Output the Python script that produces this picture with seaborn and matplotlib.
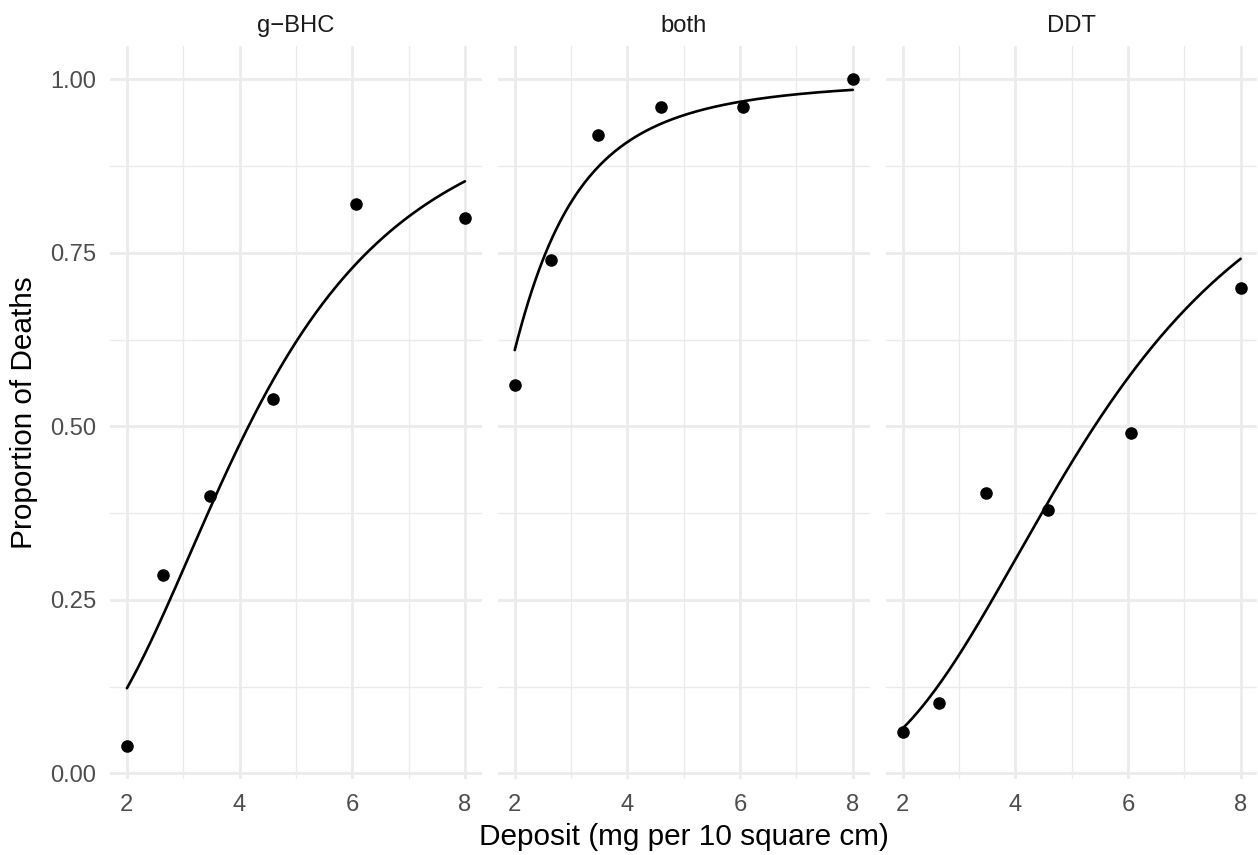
import numpy as np
import pandas as pd
import matplotlib
matplotlib.use("Agg")
import matplotlib.pyplot as plt
from matplotlib.ticker import FixedLocator, FormatStrFormatter
import seaborn as sns

# ---- data ----
panels = ["g\u2212BHC", "both", "DDT"]
deposit = [2.00, 2.64, 3.48, 4.59, 6.06, 8.00]
prop_gbhc = [0.04, 0.286, 0.40, 0.54, 0.82, 0.80]
prop_both = [0.56, 0.74, 0.92, 0.96, 0.96, 1.00]
prop_ddt = [0.06, 0.102, 0.404, 0.38, 0.49, 0.70]
n_insects = 50
x_ticks = [2, 4, 6, 8]
y_ticks = [0.00, 0.25, 0.50, 0.75, 1.00]

props = {panels[0]: prop_gbhc, panels[1]: prop_both, panels[2]: prop_ddt}
rows = []
for p in panels:
    for d, v in zip(deposit, props[p]):
        rows.append({"panel": p, "deposit": d, "prop": v})
df = pd.DataFrame(rows)

# ---- logistic fit: logit(p) = a_group + b*log(deposit) ----
X = np.column_stack([(df["panel"] == p).astype(float) for p in panels] + [np.log(df["deposit"].values)])
y = df["prop"].values
beta = np.zeros(X.shape[1])
for _ in range(60):
    eta = X @ beta
    mu = 1.0 / (1.0 + np.exp(-eta))
    mu = np.clip(mu, 1e-9, 1 - 1e-9)
    w = n_insects * mu * (1 - mu)
    z = eta + (y - mu) / (mu * (1 - mu))
    beta = np.linalg.solve(X.T @ (w[:, None] * X), X.T @ (w * z))

grid_x = np.linspace(min(deposit), max(deposit), 200)
fit_rows = []
for i, p in enumerate(panels):
    eta = beta[i] + beta[-1] * np.log(grid_x)
    for gx, e in zip(grid_x, eta):
        fit_rows.append({"panel": p, "deposit": gx, "fit": 1 / (1 + np.exp(-e))})
fit = pd.DataFrame(fit_rows)

# ---- plot ----
sns.set_theme(style="white")
plt.rcParams["font.family"] = ["Liberation Sans", "DejaVu Sans"]

W, H = 1258, 855
fig, axes = plt.subplots(1, 3, figsize=(W / 100, H / 100), dpi=100, sharey=True)
fig.subplots_adjust(left=110 / W, right=1257.5 / W, top=1 - 46 / H, bottom=1 - 779 / H, wspace=0.043)

grid_col = "#EBEBEB"
tick_fs = 17.1
title_fs = 21.4
for ax, p in zip(axes, panels):
    ax.set_facecolor("white")
    for s in ax.spines.values():
        s.set_visible(False)
    ax.set_xlim(1.7, 8.3)
    ax.set_ylim(-0.008, 1.048)
    ax.xaxis.set_major_locator(FixedLocator(x_ticks))
    ax.xaxis.set_minor_locator(FixedLocator([3, 5, 7]))
    ax.yaxis.set_major_locator(FixedLocator(y_ticks))
    ax.yaxis.set_minor_locator(FixedLocator([0.125, 0.375, 0.625, 0.875]))
    ax.yaxis.set_major_formatter(FormatStrFormatter("%.2f"))
    ax.grid(True, which="major", color=grid_col, linewidth=2.0)
    ax.grid(True, which="minor", color=grid_col, linewidth=1.0)
    ax.set_axisbelow(True)
    ax.tick_params(which="both", length=0, labelsize=tick_fs, labelcolor="#4D4D4D")
    ax.tick_params(axis="x", pad=10.5)
    ax.tick_params(axis="y", pad=9.8)

    sub = df[df["panel"] == p]
    subfit = fit[fit["panel"] == p]
    sns.lineplot(data=subfit, x="deposit", y="fit", ax=ax, color="black", linewidth=1.9)
    sns.scatterplot(data=sub, x="deposit", y="prop", ax=ax, color="black", s=82,
                    edgecolor="black", linewidth=0, zorder=3)
    ax.set_xlabel("")
    ax.set_ylabel("")
    ax.text(0.5, 1 + 14 / 733, p, transform=ax.transAxes, ha="center", va="baseline",
            fontsize=tick_fs, color="#1A1A1A")

fig.text(24 / W, 1 - 413 / H, "Proportion of Deaths", rotation=90, ha="center", va="center",
         fontsize=title_fs, color="black")
fig.text((110 + 1257.5) / 2 / W, 1 - 845 / H, "Deposit (mg per 10 square cm)",
         ha="center", va="baseline", fontsize=title_fs, color="black")

fig.savefig("out.png", dpi=100, facecolor="white")
